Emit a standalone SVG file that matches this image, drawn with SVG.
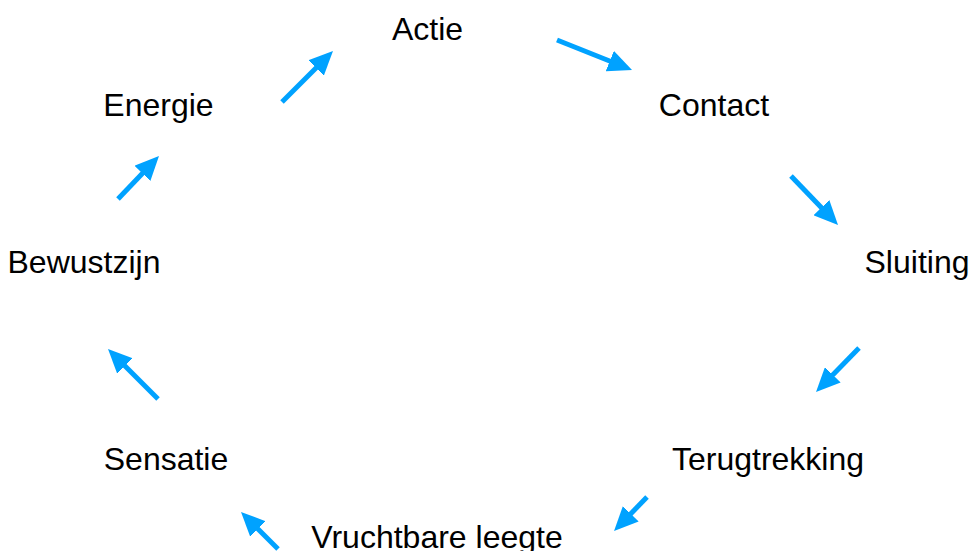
<svg xmlns="http://www.w3.org/2000/svg" width="972" height="551" viewBox="0 0 972 551">
<style>
.lbl{font-family:"Liberation Sans",Arial,sans-serif;font-size:32px;fill:#000;text-anchor:middle}
.arr{stroke:#00a2ff;stroke-width:5;fill:none;marker-end:url(#ah)}
</style>
<defs>
<marker id="ah" markerUnits="userSpaceOnUse" markerWidth="24" markerHeight="22" viewBox="0 0 24 22" refX="12" refY="11" orient="auto">
<path d="M0,0 L24,11 L0,22 Z" fill="#00a2ff"/>
</marker>
</defs>
<rect width="972" height="551" fill="#fff"/>
<g id="n-actie"><text class="lbl" x="427.5" y="39.5">Actie</text></g>
<g id="n-contact"><text class="lbl" x="714" y="116">Contact</text></g>
<g id="n-sluiting"><text class="lbl" x="917" y="273">Sluiting</text></g>
<g id="n-terugtrekking"><text class="lbl" x="768" y="470">Terugtrekking</text></g>
<g id="n-vruchtbare"><text class="lbl" x="437" y="547.5">Vruchtbare leegte</text></g>
<g id="n-sensatie"><text class="lbl" x="166" y="470">Sensatie</text></g>
<g id="n-bewustzijn"><text class="lbl" x="84" y="273">Bewustzijn</text></g>
<g id="n-energie"><text class="lbl" x="158.5" y="116">Energie</text></g>
<g id="connectors">
<line class="arr" x1="282" y1="102" x2="324.5" y2="59.5"/>
<line class="arr" x1="557" y1="40" x2="620.9" y2="65.5"/>
<line class="arr" x1="791" y1="176" x2="829.7" y2="216.3"/>
<line class="arr" x1="859" y1="348" x2="824.4" y2="383.4"/>
<line class="arr" x1="647" y1="497" x2="622.4" y2="522.4"/>
<line class="arr" x1="278" y1="549" x2="249.5" y2="520.5"/>
<line class="arr" x1="158" y1="399" x2="116.5" y2="357.5"/>
<line class="arr" x1="118" y1="199" x2="150.7" y2="164.7"/>
</g>
</svg>
